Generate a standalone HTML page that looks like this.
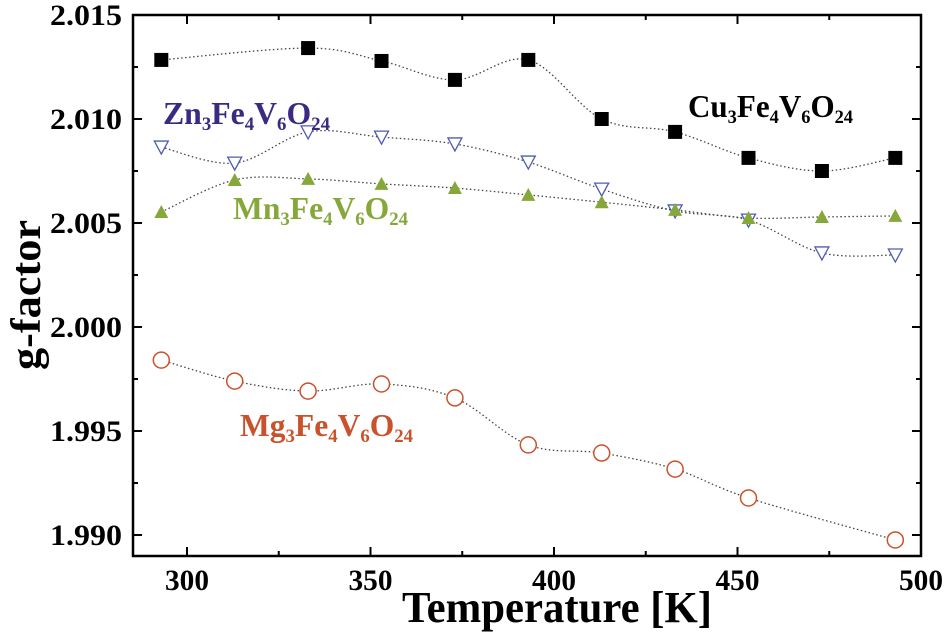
<!DOCTYPE html>
<html><head><meta charset="utf-8"><style>
body{margin:0;background:#fff}
svg{display:block}
text{font-family:"Liberation Serif",serif;font-weight:bold}
</style></head><body>
<svg id="chart" width="949" height="643">
<g id="axes"></g>
<g id="series"></g>
<text x="688" y="117" font-size="32" fill="#000" textLength="165" lengthAdjust="spacingAndGlyphs">Cu<tspan font-size="19" dy="6">3</tspan><tspan dy="-6">Fe</tspan><tspan font-size="19" dy="6">4</tspan><tspan dy="-6">V</tspan><tspan font-size="19" dy="6">6</tspan><tspan dy="-6">O</tspan><tspan font-size="19" dy="6">24</tspan></text>
<text x="163" y="124" font-size="32" fill="#3b2a82" textLength="167" lengthAdjust="spacingAndGlyphs">Zn<tspan font-size="19" dy="6">3</tspan><tspan dy="-6">Fe</tspan><tspan font-size="19" dy="6">4</tspan><tspan dy="-6">V</tspan><tspan font-size="19" dy="6">6</tspan><tspan dy="-6">O</tspan><tspan font-size="19" dy="6">24</tspan></text>
<text x="233" y="219" font-size="32" fill="#86a83a" textLength="175" lengthAdjust="spacingAndGlyphs">Mn<tspan font-size="19" dy="6">3</tspan><tspan dy="-6">Fe</tspan><tspan font-size="19" dy="6">4</tspan><tspan dy="-6">V</tspan><tspan font-size="19" dy="6">6</tspan><tspan dy="-6">O</tspan><tspan font-size="19" dy="6">24</tspan></text>
<text x="240" y="436" font-size="32" fill="#c9522c" textLength="173" lengthAdjust="spacingAndGlyphs">Mg<tspan font-size="19" dy="6">3</tspan><tspan dy="-6">Fe</tspan><tspan font-size="19" dy="6">4</tspan><tspan dy="-6">V</tspan><tspan font-size="19" dy="6">6</tspan><tspan dy="-6">O</tspan><tspan font-size="19" dy="6">24</tspan></text>
<text x="557" y="622" font-size="44" text-anchor="middle" textLength="310" lengthAdjust="spacingAndGlyphs">Temperature [K]</text>
<text transform="translate(40,295) rotate(-90)" font-size="42" text-anchor="middle" textLength="150" lengthAdjust="spacingAndGlyphs">g-factor</text>
</svg>
<script>
const xTicks=[300,350,400,450,500];
const yTicks=[1.990,1.995,2.000,2.005,2.010,2.015];
const temps=[293,313,333,353,373,393,413,433,453,473,493];
const cuVals=[2.01284,null,2.01341,2.01279,2.01188,2.01284,2.0100,2.00938,2.00813,2.0075,2.00813];
const znVals=[2.00865,2.00788,2.00938,2.00913,2.0088,2.00793,2.00663,2.00558,2.00514,2.00356,2.00346];
const mnVals=[2.00553,2.00707,2.00712,2.00688,2.00668,2.00635,2.006,2.00563,2.00524,2.00529,2.00534];
const mgVals=[1.99841,1.9974,1.99692,1.99726,1.99659,1.99433,1.99394,1.99317,1.99178,null,1.98976];

const L=133,R=921,T=15,B=556;
const xs=t=>187+(t-300)*(921-187)/200;
const ys=v=>15+(2.015-v)*20800;
const NS="http://www.w3.org/2000/svg";
function mk(tag,attrs,parent){const e=document.createElementNS(NS,tag);for(const k in attrs)e.setAttribute(k,attrs[k]);parent.appendChild(e);return e;}
const ax=document.getElementById('axes');
const frame=mk('rect',{x:L,y:T,width:R-L,height:B-T,fill:'none',stroke:'#000','stroke-width':2.5},ax);


for(let t=300;t<=500;t+=25){
  const major=t%50===0,len=major?9:5;
  mk('line',{x1:xs(t),x2:xs(t),y1:B,y2:B-len,stroke:'#000','stroke-width':2},ax);
  mk('line',{x1:xs(t),x2:xs(t),y1:T,y2:T+len,stroke:'#000','stroke-width':2},ax);
}
xTicks.forEach(t=>{const e=mk('text',{x:xs(t),y:590,'font-size':30,'text-anchor':'middle',textLength:44,lengthAdjust:'spacingAndGlyphs'},ax);e.textContent=t;

});
for(let i=0;i<=10;i++){const v=1.990+i*0.0025;const len=i%2===0?9:5;
  mk('line',{x1:L,x2:L+len,y1:ys(v),y2:ys(v),stroke:'#000','stroke-width':2},ax);
  mk('line',{x1:R,x2:R-len,y1:ys(v),y2:ys(v),stroke:'#000','stroke-width':2},ax);}
yTicks.forEach(v=>{const e=mk('text',{x:122,y:ys(v)+10,'font-size':30,'text-anchor':'end',textLength:72,lengthAdjust:'spacingAndGlyphs'},ax);e.textContent=v.toFixed(3);

});

const sg=document.getElementById('series');
function curve(vals,color,name){
  const p=[];temps.forEach((t,i)=>{if(vals[i]!==null)p.push([xs(t),ys(vals[i])]);});
  let d='M'+p[0][0]+','+p[0][1];
  for(let i=0;i<p.length-1;i++){const p0=p[i-1]||p[i],p1=p[i],p2=p[i+1],p3=p[i+2]||p2;
    d+=` C${p1[0]+(p2[0]-p0[0])/6},${p1[1]+(p2[1]-p0[1])/6} ${p2[0]-(p3[0]-p1[0])/6},${p2[1]-(p3[1]-p1[1])/6} ${p2[0]},${p2[1]}`;}
  const e=mk('path',{d:d,fill:'none',stroke:color,'stroke-width':1.3,'stroke-dasharray':'1.5,2.5'},sg);
  
  
}
function markers(vals,type,name){
  temps.forEach((t,i)=>{if(vals[i]===null)return;const x=xs(t),y=ys(vals[i]);let e;
    if(type==='sq')e=mk('rect',{x:x-7,y:y-7,width:14,height:14,fill:'#000'},sg);
    else if(type==='down')e=mk('polygon',{points:`${x-7},${y-6} ${x+7},${y-6} ${x},${y+7}`,fill:'#fff',stroke:'#4f5cb0','stroke-width':1.3},sg);
    else if(type==='up')e=mk('polygon',{points:`${x-7},${y+6} ${x+7},${y+6} ${x},${y-7}`,fill:'#86a83a'},sg);
    else e=mk('circle',{cx:x,cy:y,r:8,fill:'#fff',stroke:'#c9522c','stroke-width':1.5},sg);
    
    });
}
curve(cuVals,'#444','cu');curve(znVals,'#444','zn');curve(mnVals,'#444','mn');curve(mgVals,'#444','mg');
markers(cuVals,'sq','cu');markers(znVals,'down','zn');markers(mnVals,'up','mn');markers(mgVals,'circ','mg');
</script>
</body></html>
